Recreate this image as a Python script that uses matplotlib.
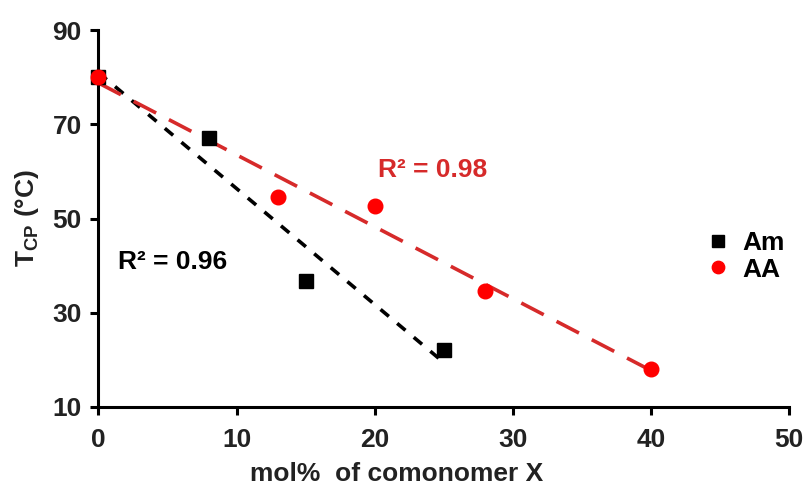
import numpy as np
import matplotlib
matplotlib.use("Agg")
import matplotlib.pyplot as plt

plt.rcParams['font.family'] = ['Liberation Sans', 'DejaVu Sans']
plt.rcParams['font.weight'] = 'bold'
plt.rcParams['mathtext.fontset'] = 'custom'
plt.rcParams['mathtext.bf'] = 'Liberation Sans:bold'
plt.rcParams['mathtext.rm'] = 'Liberation Sans:bold'

am_x = [0, 8, 15, 25]
am_y = [80, 67, 36.7, 22]
aa_x = [0, 13, 20, 28, 40]
aa_y = [80, 54.5, 52.6, 34.6, 18]
x_ticks = [0, 10, 20, 30, 40, 50]
y_ticks = [10, 30, 50, 70, 90]

fig = plt.figure(figsize=(8.07, 4.88), dpi=100)
ax = fig.add_axes([0.122, 0.166, 0.856, 0.7725])

# trendlines
am_fit = np.polyfit(am_x, am_y, 1)
aa_fit = np.polyfit(aa_x, aa_y, 1)
xa = np.array([0, 25])
xb = np.array([0, 40])
ax.plot(xa, np.polyval(am_fit, xa), color='black', lw=2.6, dashes=(3, 3), zorder=2)
ax.plot(xb, np.polyval(aa_fit, xb), color='#d62a2a', lw=2.6, dashes=(7, 4), zorder=2)

ax.plot(am_x, am_y, 's', color='black', ms=10, label='Am', zorder=3, clip_on=False)
ax.plot(aa_x, aa_y, 'o', color='#ff0000', ms=10.5, label='AA', zorder=4, clip_on=False)

ax.set_xlim(0, 50)
ax.set_ylim(10, 90)
ax.set_xticks(x_ticks)
ax.set_yticks(y_ticks)
for s in ['top', 'right']:
    ax.spines[s].set_visible(False)
for s in ['left', 'bottom']:
    ax.spines[s].set_linewidth(2.2)
ax.tick_params(axis='both', direction='out', length=6, width=2.2, labelsize=19, pad=6)
ax.tick_params(axis='x', pad=9)
for lab in ax.get_xticklabels() + ax.get_yticklabels():
    lab.set_fontweight('bold')
    lab.set_color('#222222')

ax.set_xlabel('mol%  of comonomer X', fontsize=19, fontweight='bold', color='#222222')
ax.xaxis.set_label_coords(0.432, -0.145)
ax.set_ylabel(r'T$_{\mathbf{CP}}$ (°C)', fontsize=19, fontweight='bold', labelpad=8, color='#222222')

ax.text(20.2, 60.3, 'R² = 0.98', color='#d62a2a', fontsize=19, fontweight='bold', va='center', ha='left')
ax.text(1.4, 40.7, 'R² = 0.96', color='black', fontsize=19, fontweight='bold', va='center', ha='left')

leg = ax.legend(loc='center left', bbox_to_anchor=(0.84, 0.40), frameon=False,
                prop={'size': 19, 'weight': 'bold'}, handletextpad=0.3,
                labelspacing=0.1, handlelength=1.2, markerscale=0.85)

fig.savefig('out.png', dpi=100, facecolor='white')
